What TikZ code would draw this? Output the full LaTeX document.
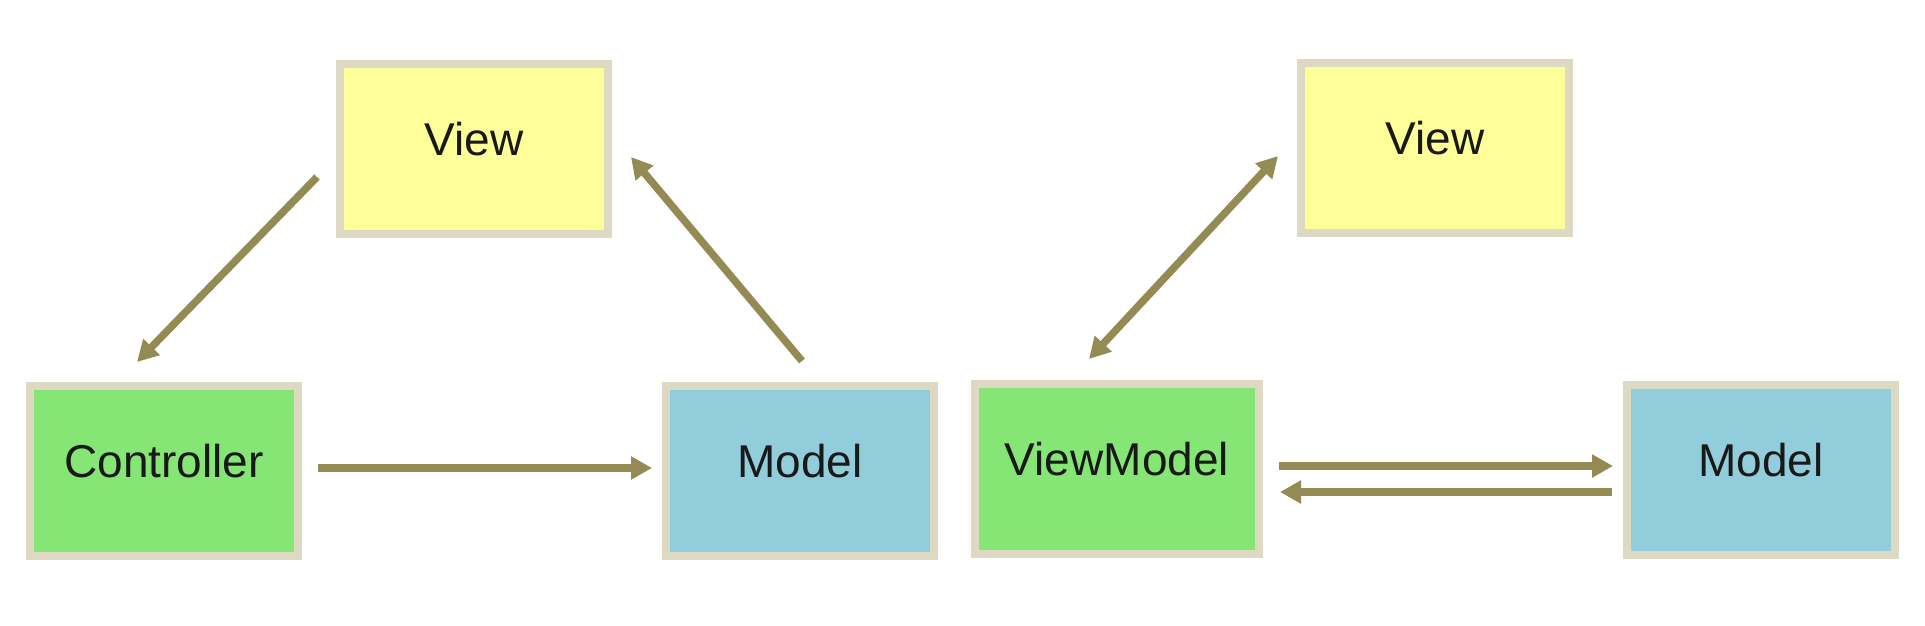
\documentclass[tikz,border=0pt]{standalone}
\usepackage{fontspec}
\setmainfont{Liberation Sans}
\usetikzlibrary{arrows.meta}
\definecolor{boxborder}{HTML}{DDD9C3}
\definecolor{viewfill}{HTML}{FFFF99}
\definecolor{ctrlfill}{HTML}{86E675}
\definecolor{modelfill}{HTML}{92CDDC}
\definecolor{arrowcol}{HTML}{948A54}
\tikzset{
  box/.style={draw=boxborder, line width=8pt, rectangle, inner sep=0pt,
    minimum width=268pt, minimum height=170pt,
    font=\fontsize{46}{55}\selectfont, text=black!90,
    text height=33pt, text depth=20pt},
  conn/.style={draw=arrowcol, line width=7.5pt,
    -{Triangle[length=21pt,width=22pt]}},
  bconn/.style={draw=arrowcol, line width=7.5pt,
    {Triangle[length=21pt,width=22pt]}-{Triangle[length=21pt,width=22pt]}}
}
\begin{document}
\begin{tikzpicture}[x=1pt,y=-1pt]
\useasboundingbox (0,0) rectangle (1925,625);
% left: MVC
\node[box, fill=viewfill] (viewL) at (474,149) {View};
\node[box, fill=ctrlfill] (ctrl) at (164,471) {Controller};
\node[box, fill=modelfill] (modelL) at (800,471) {Model};
% right: MVVM
\node[box, fill=viewfill] (viewR) at (1435,147.5) {View};
\node[box, fill=ctrlfill, minimum width=284pt] (vm) at (1117,469) {ViewModel};
\node[box, fill=modelfill] (modelR) at (1761,469.5) {Model};
% connectors
\draw[conn] ([shift={(-157,28)}]viewL.center) -- ([shift={(-27,-109)}]ctrl.center);
\draw[conn] ([shift={(2,-110)}]modelL.center) -- ([shift={(157,8)}]viewL.center);
\draw[conn] ([shift={(154,-3)}]ctrl.center) -- ([shift={(-148,-3)}]modelL.center);
\draw[bconn] ([shift={(-28,-110)}]vm.center) -- ([shift={(-157,8.5)}]viewR.center);
\draw[conn] ([shift={(162,-3)}]vm.center) -- ([shift={(-148,-3.5)}]modelR.center);
\draw[conn] ([shift={(-149,22.5)}]modelR.center) -- ([shift={(163,23)}]vm.center);
\end{tikzpicture}
\end{document}
